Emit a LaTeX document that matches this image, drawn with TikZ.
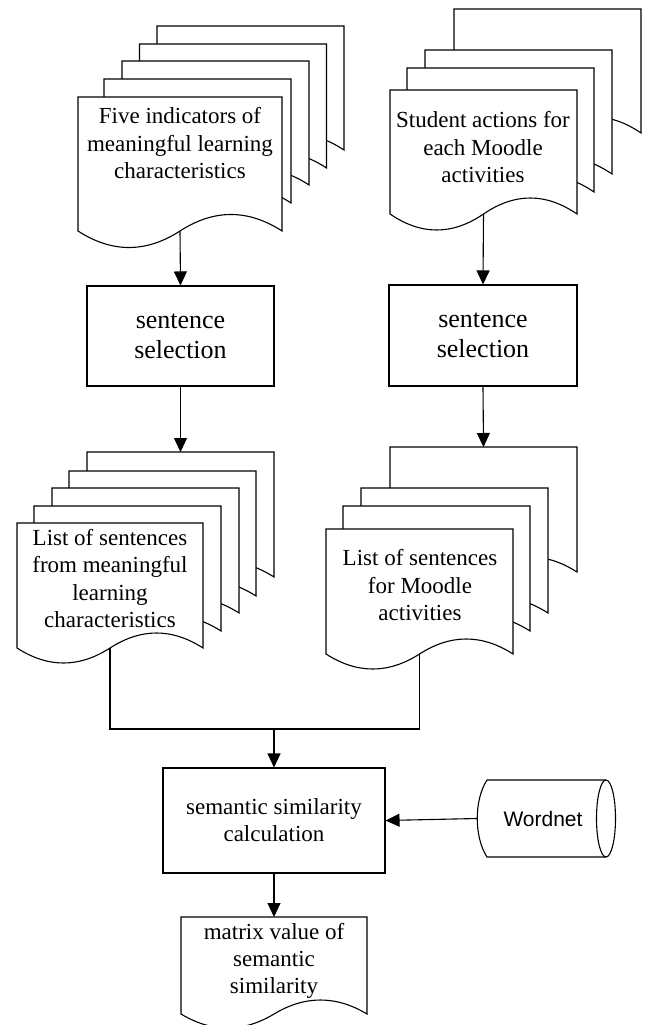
\documentclass[tikz,border=0pt]{standalone}
\usepackage{fontspec}
\setmainfont{Liberation Serif}
\newfontfamily\wnfont{Liberation Sans}
\usetikzlibrary{arrows.meta}
% name, left, top, width, height, wave amplitude
\newcommand{\docpage}[6]{%
  \draw[pageline] (#2,#3) -- ({#2+#4},#3) -- ({#2+#4},{#3+#5})
    .. controls ({#2+#4-#4/6},{#3+#5-4*#6/3}) and ({#2+#4-#4/3},{#3+#5-4*#6/3}) .. ({#2+#4/2},{#3+#5})
    .. controls ({#2+#4/3},{#3+#5+4*#6/3}) and ({#2+#4/6},{#3+#5+4*#6/3}) .. (#2,{#3+#5}) -- cycle;
  \coordinate (#1-t) at ({#2+#4/2},#3);
  \coordinate (#1-b) at ({#2+#4/2},{#3+#5});
}
\begin{document}
\begin{tikzpicture}[x=1pt,y=-1pt,
  pageline/.style={draw=black, fill=white, line width=1.1pt, line join=miter},
  procbox/.style={draw=black, fill=white, line width=1.1pt, align=center, inner sep=0pt,
    font=\fontsize{26}{30}\selectfont},
  doctext/.style={align=center, inner sep=0pt, font=\fontsize{23}{27.5}\selectfont},
  arr/.style={line width=1.1pt, -{Triangle[length=14pt,width=13pt]}},
  conn/.style={line width=1.1pt, line join=miter}]
\path[use as bounding box, clip] (0,0) rectangle (648,1025);
\fill[white] (0,0) rectangle (648,1025);

% top-left stack
\docpage{tla}{157}{26}{187}{124}{15.5}
\docpage{tlb}{139.5}{44}{187}{124}{15.5}
\docpage{tlc}{122}{61}{187}{124}{15.5}
\docpage{tld}{104}{79}{187}{124}{15.5}
\docpage{tlf}{78}{97}{204}{134}{16.5}
\node[doctext] (t1) at (180,143.5) {Five indicators of\\meaningful learning\\characteristics};

% top-right stack
\docpage{tra}{454}{9}{187}{124}{16}
\docpage{trb}{425}{50}{187}{124}{16}
\docpage{trc}{407}{68}{187}{124}{16}
\docpage{trf}{390}{90}{187}{124}{16}
\node[doctext] (t2) at (483,147.5) {Student actions for\\each Moodle\\activities};

% process boxes
\node[procbox, minimum width=187pt, minimum height=100pt] (box1) at (180.5,336) {sentence\\selection};
\node[procbox, minimum width=188pt, minimum height=101pt] (box2) at (483,335.5) {sentence\\selection};

% lower-left stack
\docpage{lla}{87}{452}{187}{125}{15}
\docpage{llb}{69}{471}{187}{125}{15}
\docpage{llc}{52}{488}{187}{125}{15}
\docpage{lld}{34}{506}{187}{125}{15}
\docpage{llf}{17}{523}{186}{125}{15}
\node[doctext] (t3) at (110,578.5) {List of sentences\\from meaningful\\learning\\characteristics};

% lower-right stack
\docpage{lra}{390}{447}{187}{125}{15}
\docpage{lrb}{361}{488}{187}{125}{15}
\docpage{lrc}{343}{506}{187}{125}{15}
\docpage{lrf}{326}{529}{187}{125}{15}
\node[doctext] (t4) at (420,585.5) {List of sentences\\for Moodle\\activities};

% calculation box
\node[procbox, minimum width=222pt, minimum height=105pt, font=\fontsize{23}{27}\selectfont] (box3) at (274,820.5) {semantic similarity\\calculation};

% Wordnet store
\draw[conn] (606,780) -- (487,780) .. controls (474,800) and (474,837) .. (487,857) -- (606,857);
\draw[conn] (606,818.5) ellipse [x radius=9.5, y radius=38.5];
\coordinate (wnl) at (477.25,818.5);
\node[font=\wnfont\fontsize{21}{25}\selectfont, inner sep=0pt] (wn) at (543,818.5) {Wordnet};

% result document
\docpage{mat}{181}{917}{186}{97}{14}
\node[doctext, font=\fontsize{23}{27}\selectfont] (t5) at (274,960.5) {matrix value of\\semantic\\similarity};

% connectors
\draw[arr] (tlf-b) -- (box1.north);
\draw[arr] (trf-b) -- (box2.north);
\draw[arr] (box1.south) -- (lla-t);
\draw[arr] (box2.south) -- (lra-t);
\coordinate (junc) at (274,729);
\draw[conn] (llf-b) -- (llf-b |- junc) -- (lrf-b |- junc) -- (lrf-b);
\draw[arr] (junc) -- (box3.north);
\draw[arr] (wnl) -- (box3.east);
\draw[arr] (box3.south) -- (mat-t);
\end{tikzpicture}
\end{document}
